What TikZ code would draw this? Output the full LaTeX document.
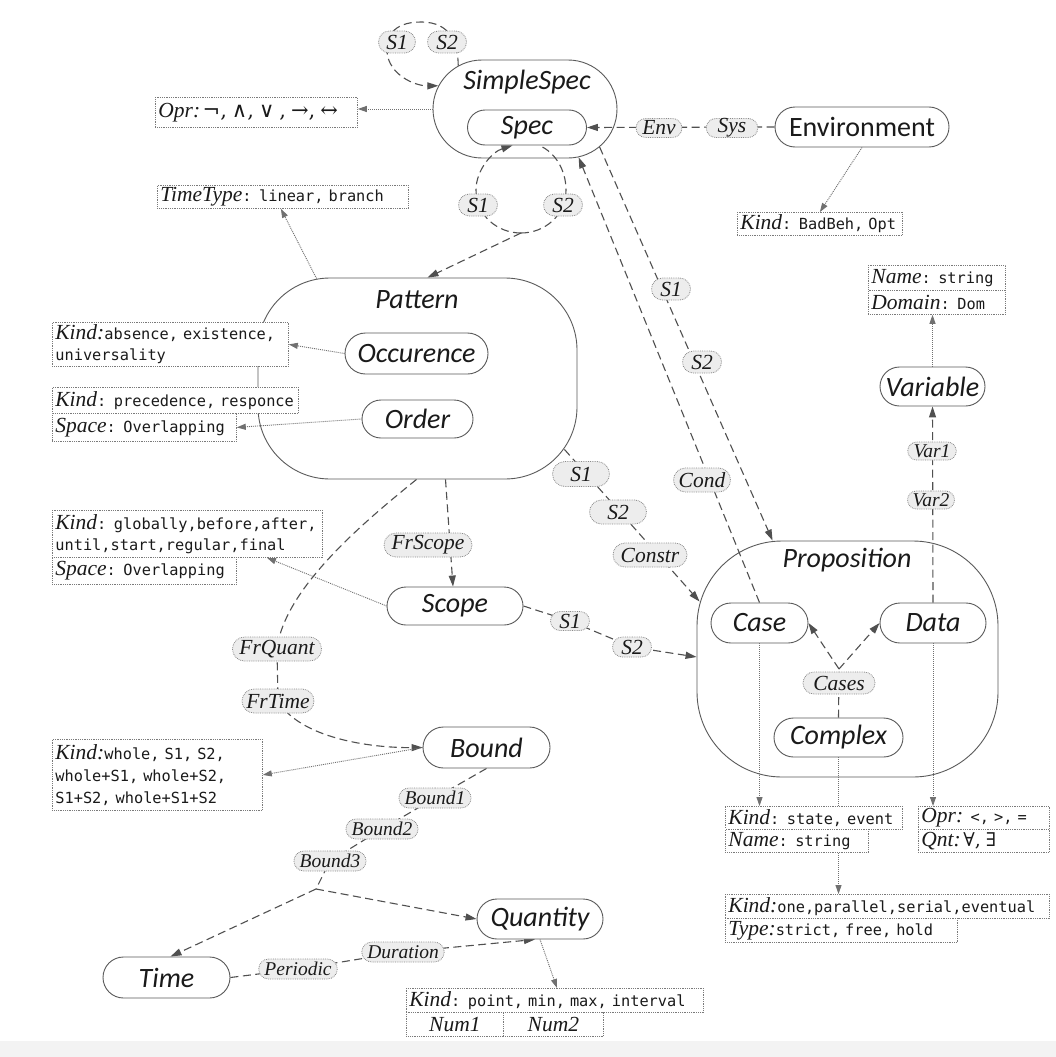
\documentclass[tikz,border=0pt]{standalone}
\usepackage{fontspec}
\setmainfont{Liberation Serif}
\newfontfamily\pillfont{Carlito}
\newfontfamily\codefont{DejaVu Sans Mono}
\newfontfamily\symfont{DejaVu Serif}
\usetikzlibrary{shapes.misc,arrows.meta,calc}

\definecolor{linegray}{HTML}{5A5A5A}
\definecolor{dashgray}{HTML}{505050}
\definecolor{dotgray}{HTML}{707070}
\definecolor{boxgray}{HTML}{7A7A7A}
\definecolor{taggray}{HTML}{8A8A8A}
\definecolor{tagfill}{HTML}{EDEDED}
\definecolor{inkblack}{HTML}{1A1A1A}
\definecolor{bandgray}{HTML}{F3F3F3}

% attribute key (serif italic) and attribute values (monospace)
\newcommand{\keyw}[1]{{\fontsize{21.5}{21}\selectfont\itshape #1}}
\newcommand{\codev}[1]{{\codefont\fontsize{15.3}{21}\selectfont #1}}

\pgfdeclarelayer{bg}
\pgfdeclarelayer{edges}
\pgfsetlayers{bg,edges,main}

\tikzset{
  pill/.style={rounded rectangle, draw=linegray, line width=0.9pt, fill=white,
    inner sep=0pt, text=inkblack, font=\pillfont\itshape\fontsize{28}{30}\selectfont},
  container/.style={rectangle, draw=linegray, line width=0.9pt, fill=white, inner sep=0pt},
  ctitle/.style={inner sep=0pt, text=inkblack, font=\pillfont\itshape\fontsize{28}{30}\selectfont},
  tag/.style={rounded rectangle, draw=taggray, densely dotted, line width=0.8pt, fill=tagfill,
    inner xsep=3pt, inner ysep=0pt, minimum height=22pt, text=inkblack,
    font=\itshape\fontsize{21.5}{22}\selectfont},
  smalltag/.style={tag, minimum height=20pt, font=\itshape\fontsize{19.5}{20}\selectfont},
  attr/.style={rectangle, draw=boxgray, densely dotted, line width=0.8pt, fill=white,
    anchor=north west, inner xsep=3pt, inner ysep=0pt, align=left, text=inkblack,
    font=\fontsize{15}{21}\selectfont},
  dep/.style={draw=dashgray, line width=1.1pt, dash pattern=on 8pt off 4.5pt},
  deparrow/.style={dep, -{Triangle[length=11pt,width=7pt]}},
  propline/.style={draw=dotgray, line width=0.9pt, dash pattern=on 1pt off 1pt,
    -{Triangle[length=9pt,width=6pt]}},
}

\begin{document}
\begin{tikzpicture}[x=1pt,y=-1pt]
\useasboundingbox (0,0) rectangle (1056,1057);

% ---------------- containers ----------------
\begin{pgfonlayer}{bg}
  \fill[white] (0,0) rectangle (1056,1057);
  \fill[bandgray] (0,1041) rectangle (1056,1057);
  \node[pill, minimum width=184pt, minimum height=98pt] (simplespec) at (525,109) {};
  \node[container, minimum width=319pt, minimum height=201pt, rounded corners=72pt] (pattern) at (417.5,378.5) {};
  \node[container, minimum width=301pt, minimum height=236pt, rounded corners=85pt] (prop) at (847.5,659) {};
\end{pgfonlayer}

\node[ctitle] (sstitle) at (527,82) {SimpleSpec};
\node[ctitle] (pattitle) at (417,300) {Pattern};
\node[ctitle] (proptitle) at (847,560) {Proposition};

% ---------------- concept nodes ----------------
\node[pill, minimum width=119pt, minimum height=35pt] (spec) at (527,127.5) {Spec};
\node[pill, font=\pillfont\fontsize{28}{30}\selectfont, minimum width=174pt, minimum height=40pt] (env) at (862,127) {Environment};
\node[pill, minimum width=143pt, minimum height=41pt] (occ) at (416.5,353.5) {Occurence};
\node[pill, minimum width=111pt, minimum height=38pt] (order) at (417.5,419) {Order};
\node[pill, minimum width=105pt, minimum height=39pt] (variable) at (932.5,386.5) {Variable};
\node[pill, minimum width=136pt, minimum height=38pt] (scope) at (455,606) {Scope};
\node[pill, minimum width=97pt, minimum height=40pt] (case) at (759.5,623) {Case};
\node[pill, minimum width=106pt, minimum height=40pt] (data) at (933,623) {Data};
\node[pill, minimum width=129pt, minimum height=39pt] (complex) at (838.5,737.5) {Complex};
\node[pill, minimum width=127pt, minimum height=41pt] (bound) at (486.5,747.5) {Bound};
\node[pill, minimum width=126pt, minimum height=40pt] (quantity) at (540,919) {Quantity};
\node[pill, minimum width=127pt, minimum height=41pt] (time) at (166.5,977.5) {Time};

% ---------------- attribute boxes ----------------
\node[attr, text width=196pt, minimum height=30pt] (oprbox) at (155,97)
  {\keyw{Opr:}\,{\symfont\fontsize{21}{21}\selectfont ¬, ∧, ∨ , →, ↔}};
\node[attr, text width=245pt, minimum height=23pt] (ttbox) at (157,185)
  {\keyw{TimeType}\codev{: linear, branch}};
\node[attr, text width=159pt, minimum height=23pt] (kbad) at (737,212)
  {\keyw{Kind}\codev{: BadBeh, Opt}};
\node[attr, text width=131pt, minimum height=25pt] (namebox) at (868,265)
  {\keyw{Name}\codev{: string}};
\node[attr, text width=131pt, minimum height=24pt] (dombox) at (868,290)
  {\keyw{Domain}\codev{: Dom}};
\node[attr, text width=230pt, minimum height=44pt] (absbox) at (52,322)
  {\keyw{Kind:}\codev{absence, existence,}\\\codev{universality}};
\node[attr, text width=240pt, minimum height=26pt] (precbox) at (52,387)
  {\keyw{Kind}\codev{: precedence, responce}};
\node[attr, text width=178pt, minimum height=28pt] (space1) at (52,413)
  {\keyw{Space}\codev{: Overlapping}};
\node[attr, text width=264pt, minimum height=47pt] (scopekind) at (52,510)
  {\keyw{Kind}\codev{: globally,before,after,}\\\codev{until,start,regular,final}};
\node[attr, text width=178pt, minimum height=27pt] (space2) at (52,557)
  {\keyw{Space}\codev{: Overlapping}};
\node[attr, text width=204pt, minimum height=71pt, font=\fontsize{15}{22}\selectfont] (boundkind) at (52,739)
  {\keyw{Kind:}\codev{whole, S1, S2,}\\\codev{whole+S1, whole+S2,}\\\codev{S1+S2, whole+S1+S2}};
\node[attr, text width=171pt, minimum height=23pt] (kstate) at (725,806)
  {\keyw{Kind}\codev{: state, event}};
\node[attr, text width=137pt, minimum height=23pt] (kname) at (725,829)
  {\keyw{Name}\codev{: string}};
\node[attr, text width=125pt, minimum height=23pt] (oprbox2) at (918,806)
  {\keyw{Opr:}\codev{ <, >, =}};
\node[attr, text width=125pt, minimum height=23pt] (qntbox) at (918,829)
  {\keyw{Qnt:}\,{\symfont\fontsize{19}{20}\selectfont ∀, ∃}};
\node[attr, text width=318pt, minimum height=24pt] (kone) at (725,894)
  {\keyw{Kind:}\codev{one,parallel,serial,eventual}};
\node[attr, text width=226pt, minimum height=24pt] (ktype) at (725,918)
  {\keyw{Type:}\codev{strict, free, hold}};
\node[attr, text width=291pt, minimum height=24pt] (qkind) at (406,988)
  {\keyw{Kind}\codev{: point, min, max, interval}};
\node[attr, align=center, text width=91pt, minimum height=24pt] (num1) at (406,1012) {\keyw{Num1}};
\node[attr, align=center, text width=94pt, minimum height=24pt] (num2) at (503,1012) {\keyw{Num2}};

% ---------------- role labels ----------------
\node[tag, minimum width=43pt] (tS1) at (397,42) {S1};
\node[tag, minimum width=45pt] (tS2) at (447,42) {S2};
\node[tag, minimum width=43pt, minimum height=19pt] (envL) at (659,128) {Env};
\node[tag, minimum width=43pt, minimum height=19pt] (sysL) at (732,128) {Sys};
\node[tag, minimum width=45pt] (lS1) at (478,205) {S1};
\node[tag, minimum width=45pt] (lS2) at (563,205) {S2};
\node[tag, minimum width=45pt] (aS1) at (671,289) {S1};
\node[tag, minimum width=45pt] (aS2) at (702,362) {S2};
\node[tag, minimum width=63pt, minimum height=24pt] (condL) at (702,480) {Cond};
\node[smalltag, minimum width=47pt, minimum height=18pt] (var1) at (932,451) {Var1};
\node[smalltag, minimum width=53pt, minimum height=18pt] (var2) at (931,500) {Var2};
\node[tag, minimum width=63pt, minimum height=25pt] (cS1) at (581,474) {S1};
\node[tag, minimum width=63pt, minimum height=24pt] (cS2) at (618,512) {S2};
\node[tag, minimum width=80pt, minimum height=24pt] (constrL) at (650,555) {Constr};
\node[tag, minimum width=45pt, minimum height=19pt] (sS1) at (570,621) {S1};
\node[tag, minimum width=45pt, minimum height=20pt] (sS2) at (632,647) {S2};
\node[tag, minimum width=87pt, minimum height=24pt] (frscope) at (428,545) {FrScope};
\node[tag, minimum width=87pt, minimum height=24pt] (frquant) at (277,649) {FrQuant};
\node[tag, minimum width=78pt, minimum height=24pt] (frtime) at (278,701) {FrTime};
\node[smalltag, minimum width=71pt] (bound1) at (435,798) {Bound1};
\node[smalltag, minimum width=71pt] (bound2) at (382,829) {Bound2};
\node[smalltag, minimum width=72pt] (bound3) at (330,861) {Bound3};
\node[smalltag, minimum width=72pt] (periodic) at (298,969) {Periodic};
\node[smalltag, minimum width=75pt] (duration) at (403,952) {Duration};
\node[tag, minimum width=78pt] (cases) at (839,683) {Cases};

% ---------------- connectors ----------------
\begin{pgfonlayer}{edges}
  % SimpleSpec refers to itself through S1 and S2
  \draw[deparrow] (simplespec.147) .. controls (458,45) and (452,22) .. (421,22)
    .. controls (392,22) and (386,38) .. (387,52)
    .. controls (389,75) and (415,86) .. (simplespec.165);
  \draw[propline] (simplespec.west) -- (simplespec.west -| oprbox.east);

  % Environment to Spec (Env, Sys)
  \draw[deparrow] (env.west) -- (spec.east);
  \draw[propline] (env.south) -- (kbad.north);

  % Spec loop and the Pattern that it feeds
  \coordinate (j1) at (521,233);
  \draw[deparrow] (j1) .. controls (497,233) and (476,215) .. (476,190)
    .. controls (476,170) and (492,152) .. (spec.-129);
  \draw[dep] (j1) .. controls (545,233) and (566,215) .. (566,190)
    .. controls (566,170) and (555,152) .. (spec.-56);
  \draw[deparrow] (j1) -- ([xshift=10pt]pattern.north);
  \draw[propline] ([xshift=59pt,yshift=-1pt]pattern.north west) -- ([xshift=-2pt]ttbox.south);

  % SimpleSpec to Proposition, Case back to SimpleSpec
  \draw[deparrow] (simplespec.-27) -- ([xshift=76pt]prop.north west);
  \draw[deparrow] (case.north) -- (simplespec.-42);

  % Pattern parts
  \draw[propline] (occ.west) -- (absbox.east);
  \draw[propline] (order.west) -- (space1.east);

  % Pattern to Proposition (Constr)
  \draw[deparrow] ([xshift=-13pt,yshift=30pt]pattern.south east) -- ($(prop.north west)+(3,61)$);

  % Pattern to Scope, Scope to Proposition
  \draw[deparrow] ([xshift=28pt]pattern.south) -- ([xshift=-2pt]scope.north);
  \draw[deparrow] (scope.east) -- (sS1.center) -- (sS2.center) -- ($(prop.west)+(0,-2)$);
  \draw[propline] (scope.west) -- ([xshift=215pt]scopekind.south west);

  % Pattern to Bound (FrQuant, FrTime)
  \draw[deparrow] ([xshift=-1pt]pattern.south) .. controls (360,525) and (284,590) .. (frquant.center)
    -- (frtime.center) .. controls (300,738) and (370,748) .. (bound.west);
  \draw[propline] (bound.west) -- (boundkind.east);

  % Bound to Time and Quantity
  \coordinate (j2) at (316,889);
  \draw[dep] (bound.south) -- (bound1.center) -- (bound2.center) -- (bound3.center) -- (j2);
  \draw[deparrow] (j2) -- ([xshift=4pt]time.north);
  \draw[deparrow] (j2) -- (quantity.west);
  \draw[deparrow] (time.east) -- (periodic.center) -- (duration.center) -- ([xshift=-5pt]quantity.south);
  \draw[propline] (quantity.south) -- ([xshift=151pt]qkind.north west);

  % Data to Variable
  \draw[deparrow] (data.north) -- (variable.south);
  \draw[propline] (variable.north) -- (variable.north |- dombox.south);

  % Complex cases
  \coordinate (j3) at (839,669);
  \draw[dep] (complex.north) -- (j3);
  \draw[deparrow] (j3) -- (case.east);
  \draw[deparrow] (j3) -- (data.west);
  \draw[propline] (case.south) -- (case.south |- kstate.north);
  \draw[propline] (data.south) -- (data.south |- oprbox2.north);
  \draw[propline] (complex.south) -- (complex.south |- kone.north);
\end{pgfonlayer}
\end{tikzpicture}
\end{document}
